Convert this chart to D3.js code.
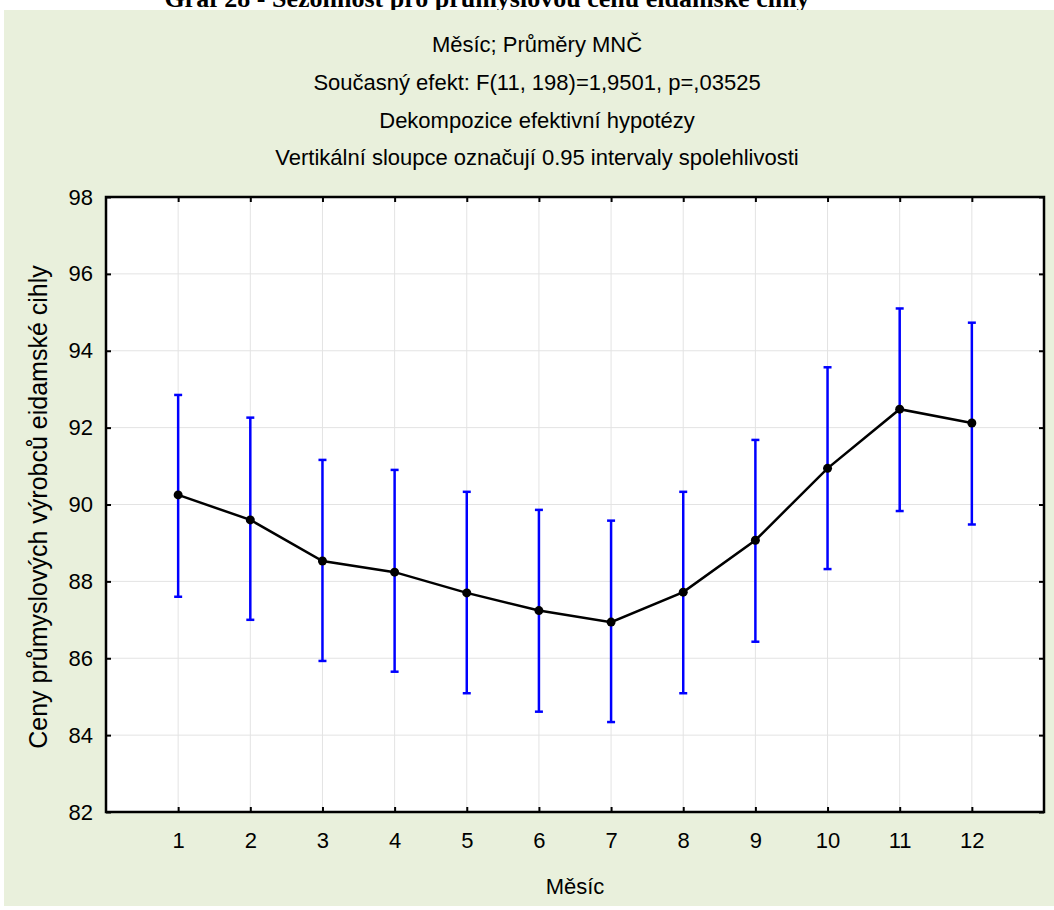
<!DOCTYPE html>
<html><head><meta charset="utf-8">
<script src="https://cdn.jsdelivr.net/npm/d3@7"></script>
<style>
html,body{margin:0;padding:0;background:#fff;}
svg{display:block;}
</style></head>
<body>
<svg id="chart" width="1054" height="910"></svg>
<script>
// ---- data ----
const months = [1,2,3,4,5,6,7,8,9,10,11,12];
const means  = [90.25, 89.60, 88.53, 88.24, 87.70, 87.24, 86.94, 87.72, 89.07, 90.94, 92.48, 92.12];
const upper  = [92.85, 92.26, 91.16, 90.90, 90.33, 89.86, 89.58, 90.33, 91.68, 93.57, 95.10, 94.73];
const lower  = [87.60, 87.00, 85.93, 85.65, 85.09, 84.61, 84.34, 85.09, 86.43, 88.32, 89.83, 89.48];
const yTicks = [82,84,86,88,90,92,94,96,98];
const topTitle = "Graf 28 - Sezónnost pro průmyslovou cenu eidamské cihly";
const titles = ["Měsíc; Průměry MNČ",
                "Současný efekt: F(11, 198)=1,9501, p=,03525",
                "Dekompozice efektivní hypotézy",
                "Vertikální sloupce označují 0.95 intervaly spolehlivosti"];
const xLabel = "Měsíc";
const yLabel = "Ceny průmyslových výrobců eidamské cihly";

const svg = d3.select("#chart");
const L = 106, R = 1044, T = 197, B = 812;
const x = d3.scaleLinear().domain([0,13]).range([L,R]);
const y = d3.scaleLinear().domain([82,98]).range([B,T]);
const sans = "'Liberation Sans',Arial,sans-serif";

// top (cut) title
svg.append("text").attr("x",487).attr("y",7).attr("text-anchor","middle")
  .attr("font-family","'Liberation Serif','Times New Roman',serif").attr("font-weight","bold")
  .attr("font-size",26).text(topTitle);

// background panel
svg.append("rect").attr("x",4).attr("y",10).attr("width",1050).attr("height",896).attr("fill","#e9f0dc");

// titles
const tBase = [52, 90, 128, 165];
titles.forEach((t,i)=>{
  svg.append("text").attr("x",537).attr("y",tBase[i]).attr("text-anchor","middle")
    .attr("font-family",sans).attr("font-size",22).attr("fill","#000").text(t);
});

// plot area
svg.append("rect").attr("x",L).attr("y",T).attr("width",R-L).attr("height",B-T).attr("fill","#fff");

// grid
const g = svg.append("g");
g.selectAll("line.vg").data(months).join("line")
  .attr("x1",d=>x(d)).attr("x2",d=>x(d)).attr("y1",T).attr("y2",B)
  .attr("stroke","#e3e3e3").attr("stroke-width",1);
g.selectAll("line.hg").data(yTicks.slice(1,-1)).join("line")
  .attr("x1",L).attr("x2",R).attr("y1",d=>y(d)).attr("y2",d=>y(d))
  .attr("stroke","#e3e3e3").attr("stroke-width",1);

// axes (ticks inward)
const styleAxis = sel => { sel.select(".domain").remove();
  sel.selectAll(".tick line").attr("stroke","#000").attr("stroke-width",2);
  sel.selectAll(".tick text").attr("font-family",sans).attr("font-size",22).attr("fill","#000"); };
svg.append("g").attr("transform",`translate(0,${B})`)
  .call(d3.axisBottom(x).tickValues(months).tickSizeInner(-5).tickSizeOuter(0).tickPadding(20))
  .call(styleAxis);
svg.append("g").attr("transform",`translate(0,${T})`)
  .call(d3.axisTop(x).tickValues(months).tickSizeInner(-5).tickSizeOuter(0).tickFormat(""))
  .call(styleAxis);
svg.append("g").attr("transform",`translate(${L},0)`)
  .call(d3.axisLeft(y).tickValues(yTicks).tickSizeInner(-5).tickSizeOuter(0).tickPadding(13))
  .call(styleAxis);
svg.append("g").attr("transform",`translate(${R},0)`)
  .call(d3.axisRight(y).tickValues(yTicks).tickSizeInner(-5).tickSizeOuter(0).tickFormat(""))
  .call(styleAxis);

// frame
svg.append("rect").attr("x",L).attr("y",T).attr("width",R-L).attr("height",B-T)
  .attr("fill","none").attr("stroke","#000").attr("stroke-width",2.5);

// error bars
const data = months.map((m,i)=>({m, mean:means[i], lo:lower[i], hi:upper[i]}));
const eb = svg.append("g").attr("stroke","#0000ff").attr("stroke-width",2.5);
eb.selectAll("line.v").data(data).join("line")
  .attr("x1",d=>x(d.m)).attr("x2",d=>x(d.m)).attr("y1",d=>y(d.lo)).attr("y2",d=>y(d.hi));
eb.selectAll("line.c1").data(data).join("line")
  .attr("x1",d=>x(d.m)-4).attr("x2",d=>x(d.m)+4).attr("y1",d=>y(d.hi)).attr("y2",d=>y(d.hi));
eb.selectAll("line.c2").data(data).join("line")
  .attr("x1",d=>x(d.m)-4).attr("x2",d=>x(d.m)+4).attr("y1",d=>y(d.lo)).attr("y2",d=>y(d.lo));

// mean line
svg.append("path").datum(data)
  .attr("d",d3.line().x(d=>x(d.m)).y(d=>y(d.mean)))
  .attr("fill","none").attr("stroke","#000").attr("stroke-width",2.5);
svg.selectAll("circle.pt").data(data).join("circle")
  .attr("cx",d=>x(d.m)).attr("cy",d=>y(d.mean)).attr("r",4.5).attr("fill","#000");

// axis titles
svg.append("text").attr("x",(L+R)/2).attr("y",894).attr("text-anchor","middle")
  .attr("font-family",sans).attr("font-size",22).text(xLabel);
svg.append("text").attr("transform",`translate(47,507) rotate(-90)`).attr("text-anchor","middle")
  .attr("font-family",sans).attr("font-size",25).text(yLabel);
</script>
</body></html>
